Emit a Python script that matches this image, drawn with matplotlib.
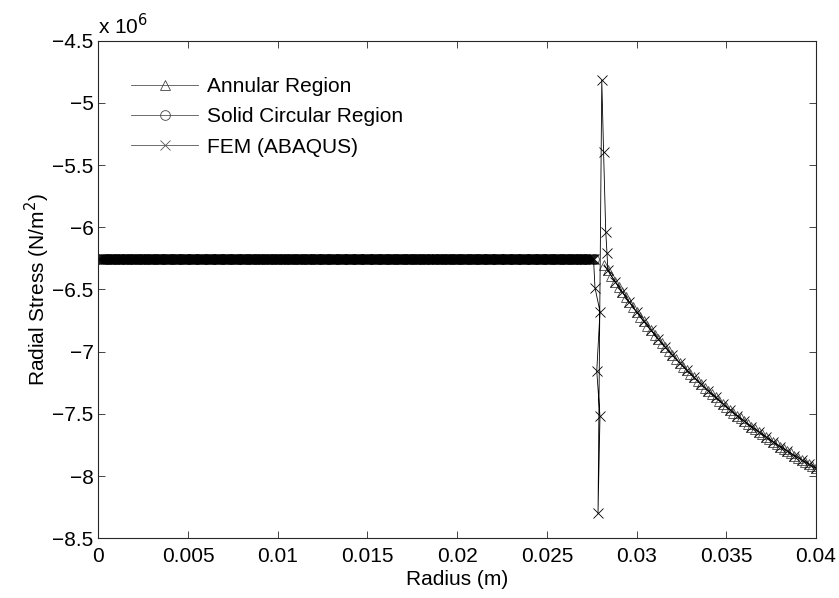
import numpy as np
import matplotlib.pyplot as plt
from matplotlib.ticker import FuncFormatter

plt.rcParams['font.family'] = ['Liberation Sans', 'DejaVu Sans']

# ---- data (stress in N/m^2) ----
# solid circular region: constant radial stress
solid_r = np.linspace(0.0, 0.0276, 61)
solid_s = np.full(solid_r.size, -6.255e6)

# annular region
annular_r = [0.0282, 0.0284, 0.0286, 0.0288, 0.0290, 0.0292, 0.0294, 0.0296,
             0.0298, 0.0300, 0.0302, 0.0304, 0.0306, 0.0308, 0.0310, 0.0312,
             0.0314, 0.0316, 0.0318, 0.0320, 0.0322, 0.0324, 0.0326, 0.0328,
             0.0330, 0.0332, 0.0334, 0.0336, 0.0338, 0.0340, 0.0342, 0.0344,
             0.0346, 0.0348, 0.0350, 0.0352, 0.0354, 0.0356, 0.0358, 0.0360,
             0.0362, 0.0364, 0.0366, 0.0368, 0.0370, 0.0372, 0.0374, 0.0376,
             0.0378, 0.0380, 0.0382, 0.0384, 0.0386, 0.0388, 0.0390, 0.0392,
             0.0394, 0.0396, 0.0398, 0.0400]
annular_s = [-6.302, -6.347, -6.392, -6.436, -6.478, -6.520, -6.562, -6.602,
             -6.641, -6.680, -6.718, -6.755, -6.792, -6.827, -6.862, -6.897,
             -6.930, -6.964, -6.996, -7.028, -7.059, -7.090, -7.120, -7.150,
             -7.179, -7.207, -7.235, -7.263, -7.290, -7.316, -7.342, -7.368,
             -7.393, -7.418, -7.442, -7.466, -7.490, -7.513, -7.536, -7.558,
             -7.580, -7.602, -7.623, -7.644, -7.664, -7.685, -7.704, -7.724,
             -7.743, -7.762, -7.781, -7.799, -7.818, -7.835, -7.853, -7.870,
             -7.887, -7.904, -7.921, -7.937]
annular_s = [v * 1e6 for v in annular_s]

# FEM (ABAQUS): dense plateau, jump at the interface, then annular part
fem_plateau_r = np.linspace(0.0, 0.0276, 553)
fem_plateau_s = np.full(fem_plateau_r.size, -6.255e6)
fem_jump_r = [0.02768, 0.02796, 0.02778, 0.02796, 0.02785,
              0.02806, 0.02816, 0.02828, 0.02835]
fem_jump_s = [-6.485e6, -6.678e6, -7.155e6, -7.520e6, -8.300e6,
              -4.816e6, -5.395e6, -6.035e6, -6.207e6]
fem_r = np.concatenate([fem_plateau_r, fem_jump_r, annular_r[1::2]])
fem_s = np.concatenate([fem_plateau_s, fem_jump_s, annular_s[1::2]])

# ---- plotting ----
fig = plt.figure(figsize=(8.39, 5.98), dpi=100)
ax = fig.add_axes([0.1172, 0.0998, 0.8554, 0.8322])

lw = 0.6
ax.plot(annular_r, annular_s, '-^', color='k', lw=lw, ms=7,
        mfc='none', mec='#444444', mew=0.6, label='Annular Region')
ax.plot(solid_r, solid_s, '-o', color='k', lw=lw, ms=7,
        mfc='none', mec='#444444', mew=0.6, label='Solid Circular Region')
ax.plot(fem_r, fem_s, '-x', color='k', lw=lw, ms=6.5,
        mew=0.6, label='FEM (ABAQUS)')

ax.set_xlim(0, 0.04)
ax.set_ylim(-8.5e6, -4.5e6)
ax.set_xticks(np.arange(0, 0.0401, 0.005))
ax.set_yticks(np.arange(-8.5e6, -4.49e6, 0.5e6))
ax.xaxis.set_major_formatter(FuncFormatter(lambda v, p: '%g' % round(v, 4)))
ax.yaxis.set_major_formatter(FuncFormatter(lambda v, p: ('%g' % (v / 1e6)).replace('-', '\u2212')))

ax.tick_params(direction='in', length=5, width=0.6, top=True, right=True,
               labelsize=15, colors='#262626', labelcolor='k')
ax.tick_params(axis='x', pad=6)
for sp in ax.spines.values():
    sp.set_linewidth(0.8)
    sp.set_color('#262626')

ax.set_xlabel('Radius (m)', fontsize=15, labelpad=3)
ax.set_ylabel('Radial Stress (N/m$^2$)', fontsize=15, labelpad=0)
ax.text(0.0, 1.005, 'x 10$^{6}$', transform=ax.transAxes, fontsize=15,
        ha='left', va='bottom')

leg = ax.legend(loc='upper left', bbox_to_anchor=(0.02, 0.965), frameon=False,
                fontsize=15, handlelength=3.2, numpoints=1, labelspacing=0.55,
                handletextpad=0.45)
for line in leg.get_lines():
    line.set_color('#555555')

fig.savefig('out.png', dpi=100)
